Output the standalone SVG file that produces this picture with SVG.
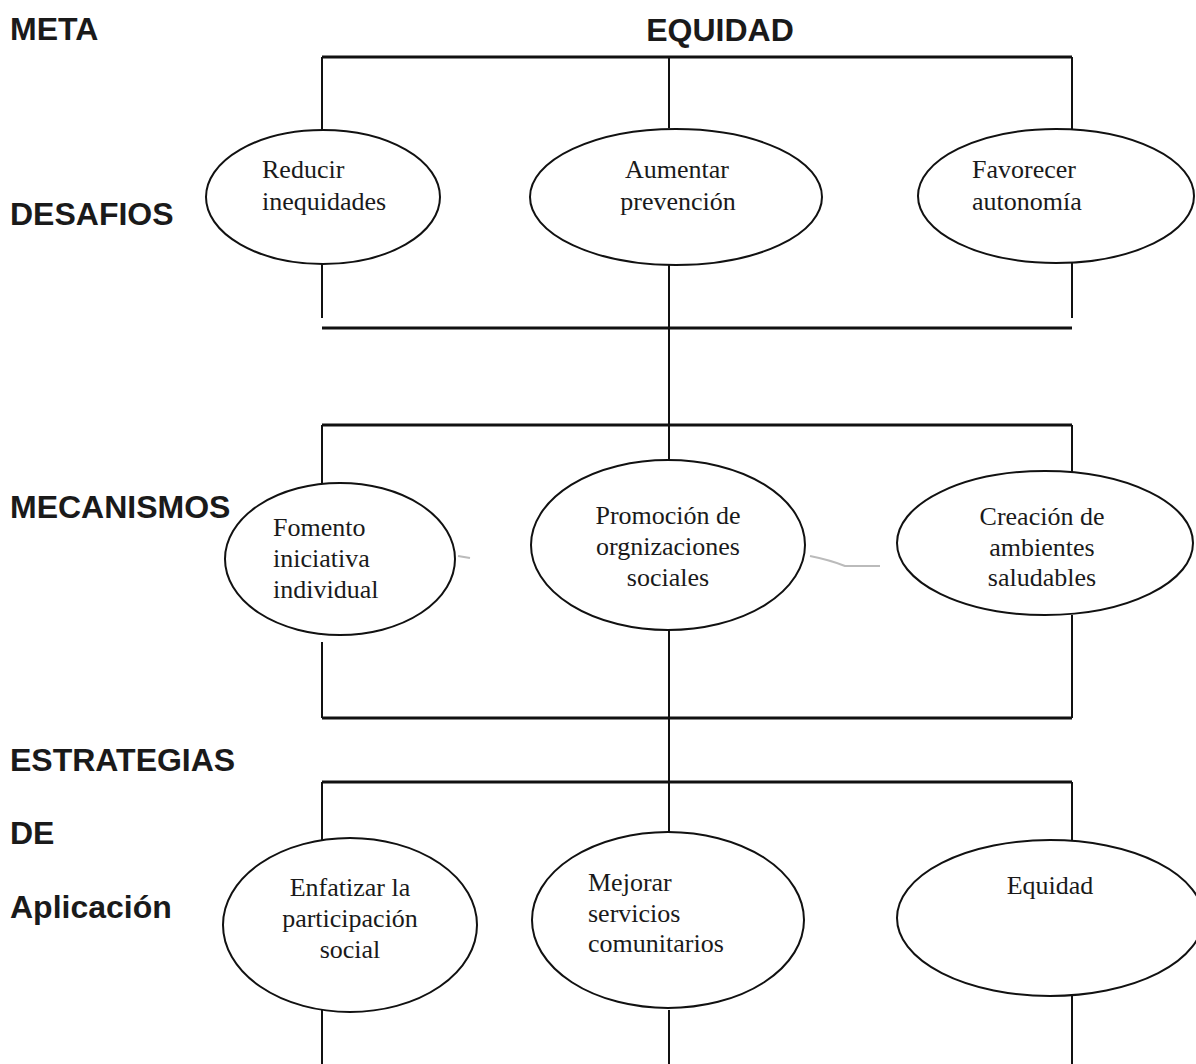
<svg xmlns="http://www.w3.org/2000/svg" width="1196" height="1064" viewBox="0 0 1196 1064">
<style>
.lbl{font-family:"Liberation Sans",Arial,sans-serif;font-weight:bold;font-size:32px;fill:#1a1a1a}
.t{font-family:"Liberation Serif","Times New Roman",serif;font-size:26px;fill:#1a1a1a}
.c{text-anchor:middle}
.n{fill:#fff;stroke:#111;stroke-width:2}
.l{stroke:#111;stroke-width:2;fill:none}
.h{stroke:#111;stroke-width:3;fill:none}
.f{stroke:#bbb;stroke-width:2;fill:none}
</style>
<rect width="1196" height="1064" fill="#fff"/>
<g id="labels">
<text class="lbl" x="10" y="40">META</text>
<text class="lbl" x="720" y="41" text-anchor="middle">EQUIDAD</text>
<text class="lbl" x="10" y="225">DESAFIOS</text>
<text class="lbl" x="10" y="518">MECANISMOS</text>
<text class="lbl" x="10" y="771">ESTRATEGIAS</text>
<text class="lbl" x="10" y="844">DE</text>
<text class="lbl" x="10" y="918">Aplicación</text>
</g>
<g id="connectors">
<line class="h" x1="322" y1="57" x2="1072" y2="57"/>
<line class="l" x1="322" y1="57" x2="322" y2="130"/>
<line class="l" x1="669" y1="57" x2="669" y2="128"/>
<line class="l" x1="1072" y1="57" x2="1072" y2="130"/>
<line class="l" x1="322" y1="262" x2="322" y2="318"/>
<line class="l" x1="669" y1="264" x2="669" y2="425"/>
<line class="l" x1="1072" y1="262" x2="1072" y2="318"/>
<line class="h" x1="322" y1="328" x2="1072" y2="328"/>
<line class="h" x1="322" y1="425" x2="1072" y2="425"/>
<line class="l" x1="322" y1="425" x2="322" y2="484"/>
<line class="l" x1="669" y1="425" x2="669" y2="461"/>
<line class="l" x1="1072" y1="425" x2="1072" y2="472"/>
<line class="l" x1="322" y1="642" x2="322" y2="718"/>
<line class="l" x1="669" y1="630" x2="669" y2="782"/>
<line class="l" x1="1072" y1="615" x2="1072" y2="718"/>
<line class="h" x1="322" y1="718" x2="1072" y2="718"/>
<line class="h" x1="322" y1="782" x2="1072" y2="782"/>
<line class="l" x1="322" y1="782" x2="322" y2="841"/>
<line class="l" x1="669" y1="782" x2="669" y2="833"/>
<line class="l" x1="1072" y1="782" x2="1072" y2="842"/>
<line class="l" x1="322" y1="1010" x2="322" y2="1064"/>
<line class="l" x1="669" y1="1010" x2="669" y2="1064"/>
<line class="l" x1="1072" y1="996" x2="1072" y2="1064"/>
<path class="f" d="M458 556 L470 558"/>
<path class="f" d="M810 556 Q830 560 845 566 L880 566"/>
</g>
<g id="n1"><ellipse class="n" cx="323" cy="197" rx="117" ry="67"/>
<text class="t" x="262" y="178">Reducir</text><text class="t" x="262" y="210">inequidades</text></g>
<g id="n2"><ellipse class="n" cx="676" cy="197" rx="146" ry="68"/>
<text class="t c" x="677" y="178">Aumentar</text><text class="t c" x="678" y="210">prevención</text></g>
<g id="n3"><ellipse class="n" cx="1056" cy="196" rx="138" ry="67"/>
<text class="t" x="972" y="178">Favorecer</text><text class="t" x="972" y="210">autonomía</text></g>
<g id="n4"><ellipse class="n" cx="340" cy="559" rx="115" ry="76"/>
<text class="t" x="273" y="536">Fomento</text><text class="t" x="273" y="567">iniciativa</text><text class="t" x="273" y="598">individual</text></g>
<g id="n5"><ellipse class="n" cx="668" cy="545" rx="137" ry="85"/>
<text class="t c" x="668" y="524">Promoción de</text><text class="t c" x="668" y="555">orgnizaciones</text><text class="t c" x="668" y="586">sociales</text></g>
<g id="n6"><ellipse class="n" cx="1045" cy="543" rx="148" ry="72"/>
<text class="t c" x="1042" y="525">Creación de</text><text class="t c" x="1042" y="556">ambientes</text><text class="t c" x="1042" y="586">saludables</text></g>
<g id="n7"><ellipse class="n" cx="350" cy="925" rx="127" ry="87"/>
<text class="t c" x="350" y="896">Enfatizar la</text><text class="t c" x="350" y="927">participación</text><text class="t c" x="350" y="958">social</text></g>
<g id="n8"><ellipse class="n" cx="668" cy="920" rx="136" ry="88"/>
<text class="t" x="588" y="891">Mejorar</text><text class="t" x="588" y="922">servicios</text><text class="t" x="588" y="952">comunitarios</text></g>
<g id="n9"><ellipse class="n" cx="1050" cy="918" rx="153" ry="78"/>
<text class="t c" x="1050" y="894">Equidad</text></g>
</svg>
